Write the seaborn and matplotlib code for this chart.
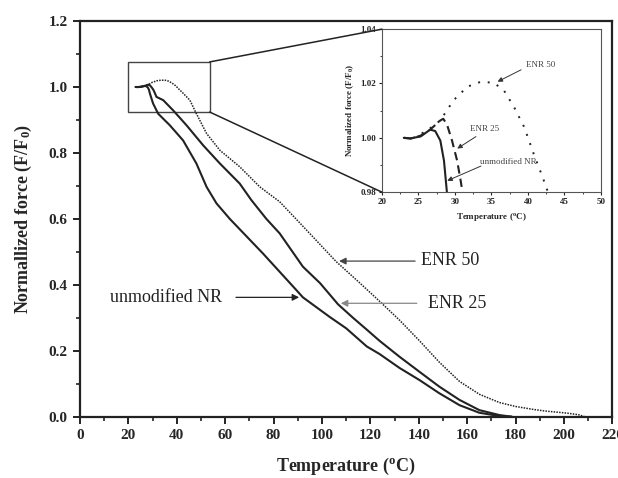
import numpy as np
import pandas as pd
import matplotlib
matplotlib.use("Agg")
import matplotlib.pyplot as plt
from matplotlib.patches import Rectangle, ConnectionPatch
from matplotlib.ticker import MultipleLocator, FormatStrFormatter
import seaborn as sns

# ---------------- data ----------------
nr_T = [23.0, 23.9, 25.3, 26.6, 27.3, 28.0, 28.5, 28.9, 30.2, 32.3, 37.1, 42.6,
        48.1, 52.3, 56.4, 61.9, 75.6, 89.4, 92.1, 103.1, 110.0, 118.5, 123.8,
        132.0, 140.3, 148.5, 156.8, 165.0, 173.3, 178.4]
nr_F = [1.000, 0.9998, 1.0005, 1.003, 1.0025, 0.999, 0.9916, 0.980, 0.950, 0.919,
        0.884, 0.838, 0.768, 0.697, 0.647, 0.600, 0.495, 0.384, 0.362, 0.303,
        0.268, 0.213, 0.190, 0.148, 0.111, 0.071, 0.035, 0.012, 0.002, 0.000]

enr25_T = [23.0, 24.0, 25.3, 26.6, 28.0, 28.4, 28.9, 29.6, 30.3, 30.8, 31.6, 34.4,
           38.5, 44.0, 50.9, 57.8, 66.0, 70.8, 77.0, 82.5, 92.1, 99.2, 106.6,
           112.8, 118.5, 123.8, 132.0, 140.3, 148.5, 156.8, 165.0, 173.3, 178.4]
enr25_F = [1.000, 0.9997, 1.0008, 1.003, 1.0064, 1.007, 1.005, 0.999, 0.9916, 0.984,
           0.970, 0.960, 0.929, 0.884, 0.823, 0.768, 0.707, 0.657, 0.600, 0.556,
           0.455, 0.405, 0.341, 0.300, 0.264, 0.230, 0.182, 0.136, 0.091, 0.051,
           0.020, 0.005, 0.000]

enr50_T = [23.0, 24.0, 26.2, 28.0, 29.8, 31.7, 33.5, 35.3, 36.7, 38.1, 39.5, 40.8,
           42.0, 45.4, 48.1, 52.3, 57.8, 66.0, 74.3, 82.5, 90.9, 96.3, 105.9,
           115.7, 123.8, 132.0, 140.3, 148.5, 156.8, 165.0, 173.3, 180.0, 187.4,
           192.5, 201.1, 206.0, 208.5]
enr50_F = [1.000, 0.9995, 1.0027, 1.0064, 1.0138, 1.0188, 1.0206, 1.0203, 1.0175,
           1.0113, 1.0039, 0.994, 0.9856, 0.960, 0.919, 0.859, 0.808, 0.758, 0.697,
           0.652, 0.587, 0.545, 0.470, 0.405, 0.350, 0.293, 0.230, 0.165, 0.107,
           0.068, 0.043, 0.031, 0.022, 0.017, 0.011, 0.006, 0.000]

x_ticks = [0, 20, 40, 60, 80, 100, 120, 140, 160, 180, 200, 220]
y_ticks = [0.0, 0.2, 0.4, 0.6, 0.8, 1.0, 1.2]
inset_x_ticks = [20, 25, 30, 35, 40, 45, 50]
inset_y_ticks = [0.98, 1.00, 1.02, 1.04]

# ---------------- style ----------------
sns.set_theme(style="ticks")
plt.rcParams['font.family'] = ['Liberation Serif', 'DejaVu Serif']
plt.rcParams['mathtext.fontset'] = 'custom'
plt.rcParams['mathtext.rm'] = 'Liberation Serif'
plt.rcParams['mathtext.bf'] = 'Liberation Serif:bold'
plt.rcParams['mathtext.it'] = 'Liberation Serif:italic'
INK = '#222222'

fig = plt.figure(figsize=(6.18, 4.78), dpi=100)
ax = fig.add_axes([0.1294, 0.1282, 0.8617, 0.8278])

df_nr = pd.DataFrame({'T': nr_T, 'F': nr_F})
df_25 = pd.DataFrame({'T': enr25_T, 'F': enr25_F})
df_50 = pd.DataFrame({'T': enr50_T, 'F': enr50_F})

sns.lineplot(data=df_nr, x='T', y='F', ax=ax, color=INK, lw=1.5, sort=False, estimator=None)
sns.lineplot(data=df_25, x='T', y='F', ax=ax, color=INK, lw=1.5, sort=False, estimator=None)
sns.lineplot(data=df_50, x='T', y='F', ax=ax, color=INK, lw=1.1, sort=False, estimator=None,
             linestyle=(0, (1, 0.8)))

ax.set_xlim(0, 220)
ax.set_ylim(0, 1.2)
ax.set_xticks(x_ticks)
ax.set_yticks(y_ticks)
ax.xaxis.set_minor_locator(MultipleLocator(10))
ax.yaxis.set_minor_locator(MultipleLocator(0.1))
ax.yaxis.set_major_formatter(FormatStrFormatter('%.1f'))
ax.tick_params(which='major', direction='out', length=5, width=1.4, color=INK,
               labelsize=11, pad=4)
ax.tick_params(which='minor', direction='out', length=3, width=1.2, color=INK)
for lab in ax.get_xticklabels() + ax.get_yticklabels():
    lab.set_fontweight('bold')
for s in ax.spines.values():
    s.set_linewidth(1.6)
    s.set_color(INK)
ax.set_xlabel('Temperature ($\\mathbf{^{o}}$C)', fontsize=13, fontweight='bold', labelpad=10)
ax.set_ylabel('Normallized force (F/F$\\mathbf{_0}$)', fontsize=13, fontweight='bold', labelpad=10)

# annotations in main plot
ax.annotate('', xy=(91.7, 0.362), xytext=(63.3, 0.362),
            arrowprops=dict(arrowstyle='-|>', color=INK, lw=0.9, mutation_scale=10))
ax.text(12.4, 0.362, 'unmodified NR', fontsize=13, va='center', ha='left', color=INK)
ax.annotate('', xy=(105.9, 0.472), xytext=(139.6, 0.472),
            arrowprops=dict(arrowstyle='-|>', color='#444444', lw=0.9, mutation_scale=10))
ax.text(141.0, 0.475, 'ENR 50', fontsize=13, va='center', ha='left', color=INK)
ax.annotate('', xy=(106.6, 0.344), xytext=(140.3, 0.344),
            arrowprops=dict(arrowstyle='-|>', color='#888888', lw=0.9, mutation_scale=10))
ax.text(143.7, 0.344, 'ENR 25', fontsize=13, va='center', ha='left', color=INK)

# zoom rectangle
rx0, rx1, ry0, ry1 = 20.0, 53.6, 0.924, 1.076
ax.add_patch(Rectangle((rx0, ry0), rx1 - rx0, ry1 - ry0, fill=False,
                       edgecolor='#444444', lw=1.0))

# ---------------- inset ----------------
ins = fig.add_axes([0.618, 0.598, 0.3544, 0.341])
sns.lineplot(data=df_nr, x='T', y='F', ax=ins, color=INK, lw=1.5, sort=False, estimator=None)
sns.lineplot(data=df_25, x='T', y='F', ax=ins, color=INK, lw=1.5, sort=False, estimator=None,
             linestyle=(0, (4, 2.5)))
sns.lineplot(data=df_50, x='T', y='F', ax=ins, color=INK, lw=1.4, sort=False, estimator=None,
             linestyle=(0, (1, 4)))
ins.set_xlim(20, 50)
ins.set_ylim(0.98, 1.04)
ins.set_xticks(inset_x_ticks)
ins.set_yticks(inset_y_ticks)
ins.xaxis.set_minor_locator(MultipleLocator(2.5))
ins.yaxis.set_minor_locator(MultipleLocator(0.01))
ins.yaxis.set_major_formatter(FormatStrFormatter('%.2f'))
ins.tick_params(which='major', direction='out', length=2.5, width=0.8, color=INK,
                labelsize=6.5, pad=1.5)
ins.tick_params(which='minor', direction='out', length=1.5, width=0.6, color=INK)
for lab in ins.get_xticklabels() + ins.get_yticklabels():
    lab.set_fontweight('bold')
for s in ins.spines.values():
    s.set_linewidth(0.8)
    s.set_color('#555555')
ins.set_xlabel('Temperature ($\\mathbf{^{o}}$C)', fontsize=6.5, fontweight='bold', labelpad=4)
ins.set_ylabel('Normalized force (F/F$\\mathbf{_0}$)', fontsize=6.5, fontweight='bold', labelpad=3)

ins.annotate('', xy=(35.5, 1.0202), xytext=(39.4, 1.0255),
             arrowprops=dict(arrowstyle='-|>', color='#333333', lw=0.7, mutation_scale=7))
ins.text(39.8, 1.0267, 'ENR 50', fontsize=6.5, va='center', ha='left', color='#444444')
ins.annotate('', xy=(30.0, 0.9955), xytext=(33.2, 1.001),
             arrowprops=dict(arrowstyle='-|>', color='#333333', lw=0.7, mutation_scale=7))
ins.text(32.1, 1.0034, 'ENR 25', fontsize=6.5, va='center', ha='left', color='#444444')
ins.annotate('', xy=(28.6, 0.9838), xytext=(33.9, 0.990),
             arrowprops=dict(arrowstyle='-|>', color='#333333', lw=0.7, mutation_scale=7))
ins.text(33.4, 0.9912, 'unmodified NR', fontsize=6.5, va='center', ha='left', color='#444444')

# connector lines from rectangle to inset
for (yd, yf) in [(ry1, 1.0), (ry0, 0.0)]:
    con = ConnectionPatch(xyA=(rx1, yd), coordsA=ax.transData,
                          xyB=(0.0, yf), coordsB=ins.transAxes,
                          color=INK, lw=1.1)
    fig.add_artist(con)

fig.savefig('out.png', dpi=100)
